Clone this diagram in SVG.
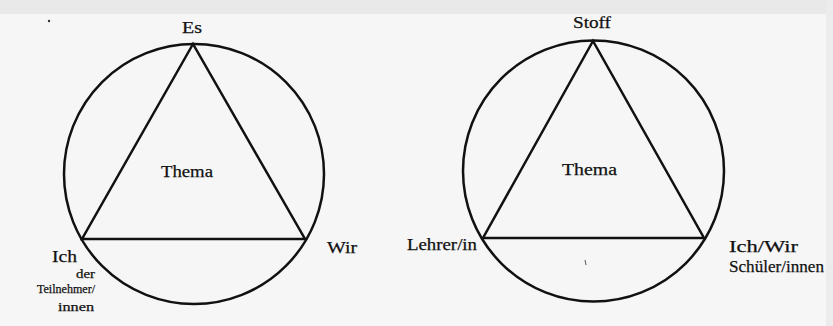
<svg xmlns="http://www.w3.org/2000/svg" width="833" height="326" viewBox="0 0 833 326">
<style>
.bg{fill:#f6f6f6}
.ln{fill:none;stroke:#111;stroke-width:2.5;stroke-linejoin:miter}
.t{font-family:"Liberation Serif","Times New Roman",serif;fill:#111;stroke:#111;stroke-width:0.25}
.l{font-size:17px}
.s{font-size:12.5px}
</style>
<rect class="bg" x="0" y="0" width="833" height="326"/>
<rect x="0" y="0" width="833" height="14" fill="#e9e9e9"/>
<rect x="826" y="0" width="7" height="326" fill="#ececec"/>
<circle cx="49" cy="21" r="1.2" fill="#333"/>
<g id="connectors">
  <g id="left-figure">
    <circle class="ln" cx="194" cy="174" r="130"/>
    <polygon class="ln" points="193,44 82,239 305,239"/>
  </g>
  <g id="right-figure">
    <circle class="ln" cx="593.5" cy="171" r="130.5"/>
    <polygon class="ln" points="593,41 483,238 704,238"/>
  </g>
</g>
<g id="node-es"><text class="t l" x="182" y="33" textLength="20" lengthAdjust="spacingAndGlyphs">Es</text></g>
<g id="node-thema-left"><text class="t l" x="161" y="177" textLength="52" lengthAdjust="spacingAndGlyphs">Thema</text></g>
<g id="node-ich"><text class="t l" x="52" y="262" textLength="25" lengthAdjust="spacingAndGlyphs">Ich</text>
  <text class="t s" x="76" y="278" textLength="19" lengthAdjust="spacingAndGlyphs">der</text>
  <text class="t s" x="37" y="293" textLength="58" lengthAdjust="spacingAndGlyphs">Teilnehmer/</text>
  <text class="t s" x="58" y="311" textLength="36" lengthAdjust="spacingAndGlyphs">innen</text></g>
<g id="node-wir"><text class="t l" x="327" y="253" textLength="30" lengthAdjust="spacingAndGlyphs">Wir</text></g>
<g id="node-stoff"><text class="t l" x="573" y="28" textLength="38" lengthAdjust="spacingAndGlyphs">Stoff</text></g>
<g id="node-thema-right"><text class="t l" x="562" y="175" textLength="55" lengthAdjust="spacingAndGlyphs">Thema</text></g>
<g id="node-lehrer"><text class="t l" x="407" y="250" textLength="70" lengthAdjust="spacingAndGlyphs">Lehrer/in</text></g>
<g id="node-ichwir"><text class="t l" x="729" y="252" textLength="69" lengthAdjust="spacingAndGlyphs">Ich/Wir</text>
  <text class="t l" x="729" y="272" textLength="95" lengthAdjust="spacingAndGlyphs">Schüler/innen</text></g>
<path d="M585,260 l1,5" stroke="#555" stroke-width="1" fill="none"/>
</svg>
